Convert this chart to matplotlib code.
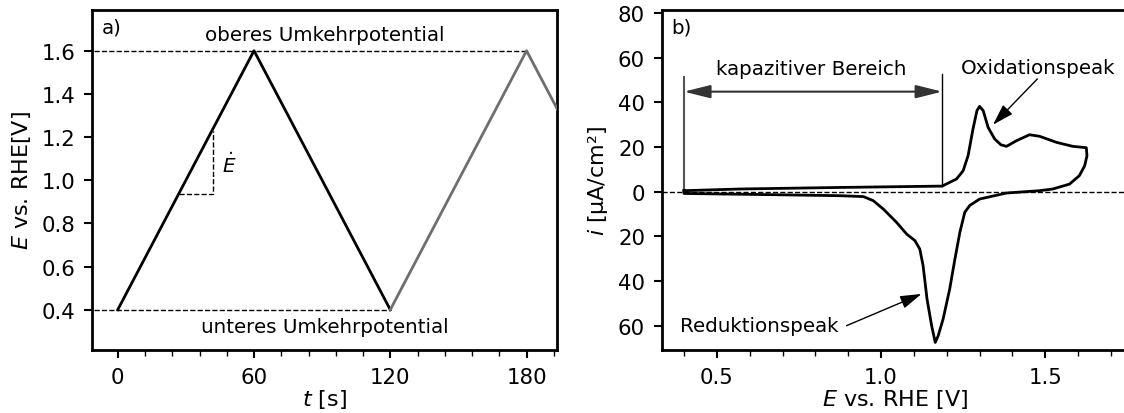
import numpy as np
import matplotlib
import matplotlib.pyplot as plt
from matplotlib.ticker import MultipleLocator, FuncFormatter, FormatStrFormatter

matplotlib.use('Agg')
plt.rcParams['font.family'] = ['DejaVu Sans']
plt.rcParams['mathtext.fontset'] = 'dejavusans'
plt.rcParams['font.size'] = 14.3
plt.rcParams['xtick.labelsize'] = 15.3
plt.rcParams['ytick.labelsize'] = 15.3
plt.rcParams['axes.labelsize'] = 16

# a) Dreieckspannung
t_black = [0, 60, 120]
E_black = [0.4, 1.6, 0.4]
t_grey = [120, 180, 200]
E_grey = [0.4, 1.6, 1.2]
E_upper = 1.6
E_lower = 0.4
t_upper_end = 180
t_lower_end = 120
tri_t = [26.8, 42.0, 42.0]
tri_E = [0.937, 0.937, 1.23]

# b) Zyklovoltammogramm
cv_E = [0.40, 0.57, 0.875, 1.186, 1.23, 1.25, 1.265, 1.28, 1.292, 1.30, 1.311,
        1.326, 1.346, 1.365, 1.382, 1.412, 1.452, 1.483, 1.534, 1.584, 1.618,
        1.625, 1.627, 1.620, 1.604, 1.574, 1.523, 1.483, 1.382, 1.300, 1.27,
        1.255, 1.240, 1.225, 1.209, 1.189, 1.174, 1.165, 1.154, 1.140, 1.128,
        1.118, 1.103, 1.078, 1.047, 1.007, 0.976, 0.946, 0.875, 0.672, 0.40, 0.40]
cv_i = [0.45, 1.2, 1.9, 2.5, 5.7, 9.4, 16.1, 28.1, 36.3, 38.2, 36.3,
        28.8, 23.6, 21.0, 20.3, 22.8, 25.5, 24.8, 22.1, 20.3, 19.8,
        19.7, 16.1, 11.6, 7.2, 3.4, 1.2, 0.45, -0.6, -3.3, -6.2,
        -9.2, -18.2, -30.1, -43.6, -57.0, -64.5, -67.5, -60.0, -48.1, -33.1,
        -25.7, -21.9, -19.0, -13.7, -7.8, -4.0, -2.2, -1.8, -1.35, -0.8, 0.45]
kap_left = 0.40
kap_right = 1.186

fig = plt.figure(figsize=(11.24, 4.14), dpi=100)
W, H = 1124, 414
ax1 = fig.add_axes([92.3 / W, 1 - 351 / H, (557 - 92.3) / W, (351 - 10.7) / H])
ax2 = fig.add_axes([661.7 / W, 1 - 351 / H, (1128 - 661.7) / W, (351 - 10.7) / H])

for ax in (ax1, ax2):
    for s in ax.spines.values():
        s.set_linewidth(2.0)
    ax.tick_params(which='major', direction='out', length=6, width=1.5, pad=6)
    ax.tick_params(which='minor', direction='out', length=4, width=1.0)

# ---- a)
ax1.plot(t_black, E_black, color='black', lw=2, zorder=3)
ax1.plot(t_grey, E_grey, color='#6e6e6e', lw=2, zorder=3)
ax1.plot([-20, t_upper_end], [E_upper, E_upper], 'k--', lw=1)
ax1.plot([-20, t_lower_end], [E_lower, E_lower], 'k--', lw=1)
ax1.plot(tri_t, tri_E, 'k--', lw=1)
ax1.text(49, 1.075, r'$\dot{E}$', ha='center', va='center')
ax1.text(91, 1.677, 'oberes Umkehrpotential', ha='center', va='center')
ax1.text(91, 0.322, 'unteres Umkehrpotential', ha='center', va='center')
ax1.text(0.02, 0.95, 'a)', transform=ax1.transAxes, ha='left', va='center')
ax1.set_xlim(-11.2, 193.4)
ax1.set_ylim(0.2135, 1.79)
ax1.set_xticks([0, 60, 120, 180])
ax1.xaxis.set_minor_locator(MultipleLocator(12))
ax1.set_yticks(np.arange(0.4, 1.61, 0.2))
ax1.yaxis.set_major_formatter(FormatStrFormatter('%.1f'))
ax1.set_xlabel('$t$ [s]', labelpad=0)
ax1.set_ylabel('$E$ vs. RHE[V]', labelpad=6)

# ---- b)
head = '-|>,head_length=1.3,head_width=0.4'
ax2.axhline(0, color='black', ls='--', lw=1)
ax2.plot(cv_E, cv_i, color='black', lw=2, zorder=3)
ax2.plot([kap_left, kap_left], [0, 51.2], color='#555555', lw=1.5)
ax2.plot([kap_right, kap_right], [2.5, 52.7], color='black', lw=1)
ax2.annotate('', xy=(kap_left, 44.8), xytext=(kap_right, 44.8),
             arrowprops=dict(arrowstyle='<|-|>,head_length=1.6,head_width=0.4',
                             mutation_scale=10, color='#333333', lw=1.5,
                             shrinkA=0, shrinkB=0))
ax2.text(0.787, 55, 'kapazitiver Bereich', ha='center', va='center')
ax2.text(1.477, 55.8, 'Oxidationspeak', ha='center', va='center')
ax2.annotate('', xy=(1.341, 30), xytext=(1.476, 50.5),
             arrowprops=dict(arrowstyle=head, mutation_scale=10, color='black',
                             lw=1, shrinkA=0, shrinkB=0))
ax2.text(0.629, -60, 'Reduktionspeak', ha='center', va='center')
ax2.annotate('', xy=(1.123, -45.8), xytext=(0.895, -60),
             arrowprops=dict(arrowstyle=head, mutation_scale=10, color='black',
                             lw=1, shrinkA=0, shrinkB=0))
ax2.text(0.02, 0.95, 'b)', transform=ax2.transAxes, ha='left', va='center')
ax2.set_xlim(0.332, 1.752)
ax2.set_ylim(-70.9, 81.5)
ax2.set_xticks([0.5, 1.0, 1.5])
ax2.xaxis.set_major_formatter(FormatStrFormatter('%.1f'))
ax2.xaxis.set_minor_locator(MultipleLocator(0.1))
ax2.set_yticks([-60, -40, -20, 0, 20, 40, 60, 80])
ax2.yaxis.set_major_formatter(FuncFormatter(lambda v, p: '%d' % abs(round(v))))
ax2.set_xlabel('$E$ vs. RHE [V]', labelpad=0)
ax2.set_ylabel('$i$ [µA/cm²]', labelpad=6)

plt.savefig('out.png', dpi=100)
